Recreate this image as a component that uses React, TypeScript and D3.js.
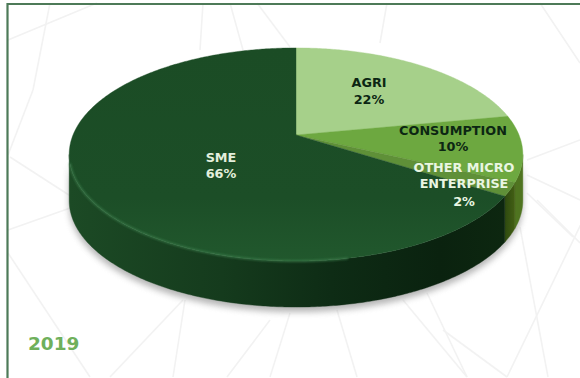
import React from "react";
import * as d3 from "d3";

// Share of the loan book by segment, 2019 (percent)
const segments = ["AGRI", "CONSUMPTION", "OTHER MICRO ENTERPRISE", "SME"];
const shares = [22, 10, 2, 66];
const topColors = ["#a6d08a", "#6da840", "#5f9038", "url(#smeTop)"];
const wallColors = ["#7da55f", "#4f7420", "url(#oliveWall)", "url(#smeWall)"];
const yearLabel = "2019";

// Label lines with their placement on the page
const labelLines = [
  { lines: ["AGRI", "22%"], x: 369, ys: [87, 104], fill: "#0c2613" },
  { lines: ["CONSUMPTION", "10%"], x: 453, ys: [135, 151], fill: "#0c2613" },
  { lines: ["OTHER MICRO", "ENTERPRISE", "2%"], x: 464, ys: [172, 188, 206], fill: "#e9f6e2" },
  { lines: ["SME", "66%"], x: 221, ys: [162, 178], fill: "#e3efdc" },
];

// Faint decorative web behind the chart
const webLines = [
  [50, 3, 33, 90], [97, 3, 8, 40], [10, 157, 72, 197], [73, 207, 8, 230], [8, 253, 90, 377],
  [183, 300, 110, 377], [185, 300, 173, 377], [270, 320, 227, 377], [290, 313, 270, 377],
  [337, 310, 357, 377], [403, 300, 467, 377], [427, 293, 467, 377], [443, 330, 507, 377],
  [583, 220, 507, 377], [520, 227, 548, 377], [537, 200, 580, 243], [527, 160, 580, 140],
  [527, 175, 580, 200], [527, 193, 573, 237], [540, 3, 580, 63], [387, 3, 380, 43],
  [203, 3, 200, 50], [230, 3, 243, 50], [257, 3, 290, 47], [33, 90, 8, 155],
];

// Perspective disc: the apex sits above the ellipse's centre because the rear is foreshortened
const apex = { x: 296, y: 135 };
const spreadX = 223;
const spreadY = 103;
const tilt = 0.183;
const depth = 46;

const project = (theta: number, lift = 0) => {
  const u = Math.sin(theta);
  const v = Math.cos(theta);
  const w = 1 + tilt * v;
  return [apex.x + (spreadX * u) / w, apex.y - (spreadY * v) / w + lift] as [number, number];
};

const arcSamples = (a: number, b: number, lift = 0) => {
  const n = Math.max(2, Math.ceil(Math.abs(b - a) / 0.01));
  return d3.range(n + 1).map((i) => project(a + ((b - a) * i) / n, lift));
};

const line = d3.line();
const closedPath = (pts: [number, number][]) => line(pts) + "Z";

// Angles where the rim turns away from the viewer: only the wall between them shows
const wallStart = Math.acos(-tilt);
const wallEnd = 2 * Math.PI - wallStart;

export default function App() {
  const arcs = d3
    .pie<number>()
    .sort(null)
    .value((d) => d)(shares);

  const wedges = arcs.map((a) => ({
    top: closedPath([[apex.x, apex.y], ...arcSamples(a.startAngle, a.endAngle)]),
    from: Math.max(a.startAngle, wallStart),
    to: Math.min(a.endAngle, wallEnd),
  }));

  const wallPath = (from: number, to: number) =>
    closedPath([...arcSamples(from, to), ...arcSamples(to, from, depth)]);

  const silhouette = wallPath(wallStart, wallEnd);
  const bevel = line(arcSamples(2.95, 4.45, 0))!;

  return (
    <svg
      width={580}
      height={378}
      viewBox="0 0 580 378"
      style={{ position: "fixed", left: 0, top: 0, background: "#fff" }}
    >
      <defs>
        <linearGradient id="smeWall" gradientUnits="userSpaceOnUse" x1={69} x2={505} y1={0} y2={0}>
          <stop offset="0" stopColor="#1c4a25" />
          <stop offset="0.35" stopColor="#153b1d" />
          <stop offset="0.6" stopColor="#0e2c15" />
          <stop offset="0.85" stopColor="#0a220f" />
          <stop offset="1" stopColor="#0d2710" />
        </linearGradient>
        <linearGradient id="oliveWall" x1="0" x2="1" y1="0" y2="0">
          <stop offset="0" stopColor="#2e4a10" />
          <stop offset="1" stopColor="#435f14" />
        </linearGradient>
        <linearGradient id="smeTop" gradientUnits="userSpaceOnUse" x1={0} x2={0} y1={48} y2={262}>
          <stop offset="0" stopColor="#1b4c25" />
          <stop offset="0.7" stopColor="#1c4e27" />
          <stop offset="1" stopColor="#21582d" />
        </linearGradient>
        <filter id="softShadow" x="-10%" y="-10%" width="120%" height="130%">
          <feGaussianBlur stdDeviation="3" />
        </filter>
        <filter id="softBevel" x="-10%" y="-20%" width="120%" height="140%">
          <feGaussianBlur stdDeviation="0.9" />
        </filter>
      </defs>

      {webLines.map(([x1, y1, x2, y2], i) => (
        <line key={i} x1={x1} y1={y1} x2={x2} y2={y2} stroke="#f2f2f2" strokeWidth={1.6} />
      ))}

      <path d={`M7.5 378V4H580`} fill="none" stroke="#4d7a58" strokeWidth={2.2} />

      <path d={silhouette} transform="translate(0,5)" fill="#8f8f8f" opacity={0.65} filter="url(#softShadow)" />

      {wedges.map((w, i) =>
        w.to > w.from ? <path key={i} d={wallPath(w.from, w.to)} fill={wallColors[i]} stroke={wallColors[i]} strokeWidth={0.4} /> : null
      )}

      {wedges.map((w, i) => (
        <path key={segments[i]} d={w.top} fill={topColors[i]} stroke={topColors[i]} strokeWidth={0.4} />
      ))}

      <path d={bevel} fill="none" stroke="#3f8150" strokeWidth={1.8} opacity={0.8} filter="url(#softBevel)" />

      {labelLines.map((l) =>
        l.lines.map((t, i) => (
          <text
            key={t}
            x={l.x}
            y={l.ys[i]}
            textAnchor="middle"
            fontFamily="'DejaVu Sans', sans-serif"
            fontWeight={700}
            fontSize={12.8}
            fill={l.fill}
          >
            {t}
          </text>
        ))
      )}

      <text
        x={28}
        y={350}
        fontFamily="'DejaVu Sans', sans-serif"
        fontWeight={700}
        fontSize={18.5}
        fill="#6fb05c"
      >
        {yearLabel}
      </text>
    </svg>
  );
}
